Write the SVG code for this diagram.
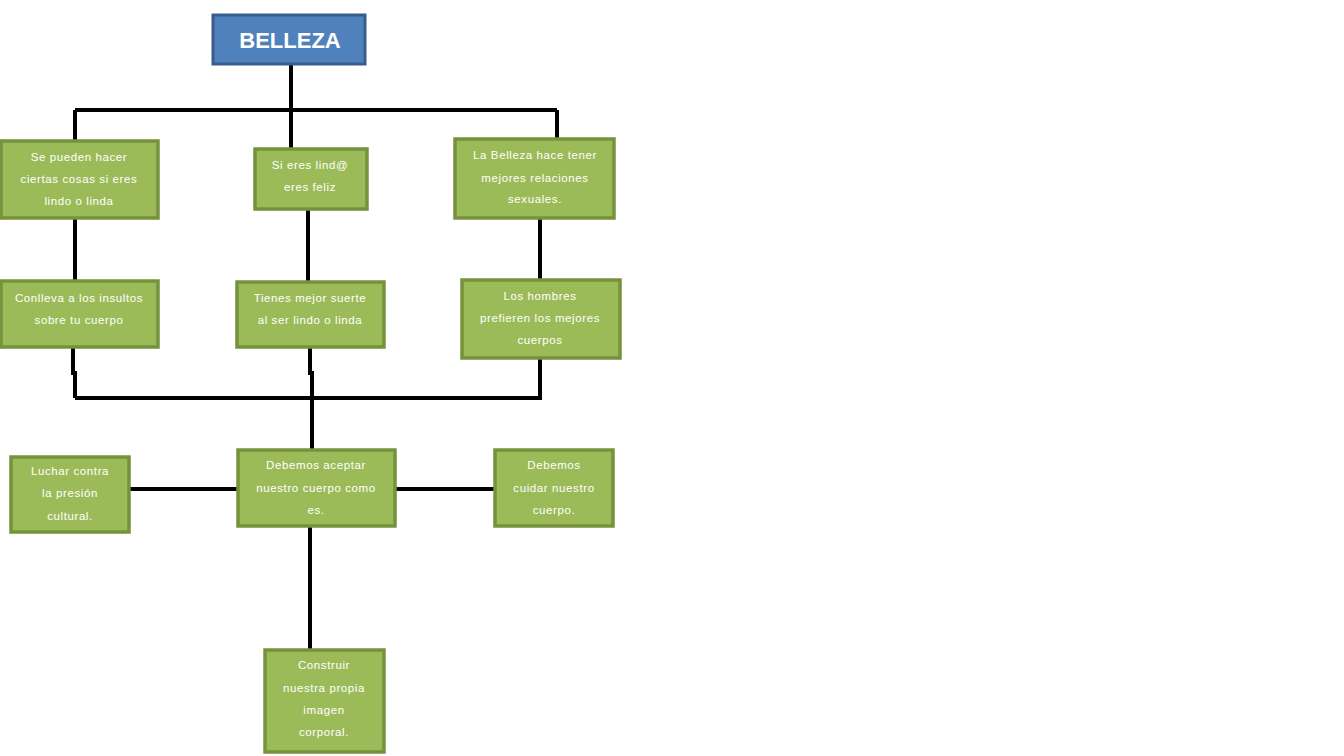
<svg xmlns="http://www.w3.org/2000/svg" width="1344" height="756" viewBox="0 0 1344 756">
<style>
.n{fill:#9BBB59;stroke:#76923C;stroke-width:3.5}
.t{fill:#fff;font-family:"Liberation Sans",Arial,sans-serif;font-size:11.5px;text-anchor:middle;letter-spacing:0.6px}
.c{stroke:#000;stroke-width:4;fill:none}
</style>
<rect width="1344" height="756" fill="#fff"/>
<g id="connectors">
<path class="c" d="M291 64V110M75 110H557M75 110V140M291 110V148M557 110V138"/>
<path class="c" d="M75 218V280M308 209V281M540 219V279"/>
<path class="c" d="M73 348V373H75V398M310 348V373H312V449M540 359V398M75 398H542"/>
<path class="c" d="M130 489H237M396 489H494M310 527V649"/>
</g>
<g id="belleza">
<rect x="213" y="15" width="152" height="49" fill="#4F81BD" stroke="#385D8A" stroke-width="3"/>
<text x="290" y="48" fill="#fff" font-family="'Liberation Sans',Arial,sans-serif" font-size="22" font-weight="bold" text-anchor="middle">BELLEZA</text>
</g>
<g id="n1">
<rect class="n" x="1" y="141" width="157" height="77"/>
<text class="t" x="79" y="161">Se pueden hacer</text>
<text class="t" x="79" y="183">ciertas cosas si eres</text>
<text class="t" x="79" y="205">lindo o linda</text>
</g>
<g id="n2">
<rect class="n" x="255" y="149" width="112" height="60"/>
<text class="t" x="310" y="169">Si eres lind@</text>
<text class="t" x="310" y="191">eres feliz</text>
</g>
<g id="n3">
<rect class="n" x="455" y="139" width="159" height="79"/>
<text class="t" x="535" y="159">La Belleza hace tener</text>
<text class="t" x="535" y="182">mejores relaciones</text>
<text class="t" x="535" y="203">sexuales.</text>
</g>
<g id="n4">
<rect class="n" x="1" y="281" width="157" height="66"/>
<text class="t" x="79" y="302">Conlleva a los insultos</text>
<text class="t" x="79" y="324">sobre tu cuerpo</text>
</g>
<g id="n5">
<rect class="n" x="237" y="282" width="147" height="65"/>
<text class="t" x="310" y="302">Tienes mejor suerte</text>
<text class="t" x="310" y="324">al ser lindo o linda</text>
</g>
<g id="n6">
<rect class="n" x="462" y="280" width="158" height="78"/>
<text class="t" x="540" y="300">Los hombres</text>
<text class="t" x="540" y="322">prefieren los mejores</text>
<text class="t" x="540" y="344">cuerpos</text>
</g>
<g id="n7">
<rect class="n" x="238" y="450" width="157" height="76"/>
<text class="t" x="316" y="469">Debemos aceptar</text>
<text class="t" x="316" y="492">nuestro cuerpo como</text>
<text class="t" x="316" y="514">es.</text>
</g>
<g id="n8">
<rect class="n" x="11" y="457" width="118" height="75"/>
<text class="t" x="70" y="475">Luchar contra</text>
<text class="t" x="70" y="497">la presión</text>
<text class="t" x="70" y="520">cultural.</text>
</g>
<g id="n9">
<rect class="n" x="495" y="450" width="118" height="76"/>
<text class="t" x="554" y="469">Debemos</text>
<text class="t" x="554" y="492">cuidar nuestro</text>
<text class="t" x="554" y="514">cuerpo.</text>
</g>
<g id="n10">
<rect class="n" x="265" y="650" width="119" height="102"/>
<text class="t" x="324" y="669">Construir</text>
<text class="t" x="324" y="692">nuestra propia</text>
<text class="t" x="324" y="714">imagen</text>
<text class="t" x="324" y="736">corporal.</text>
</g>
</svg>
